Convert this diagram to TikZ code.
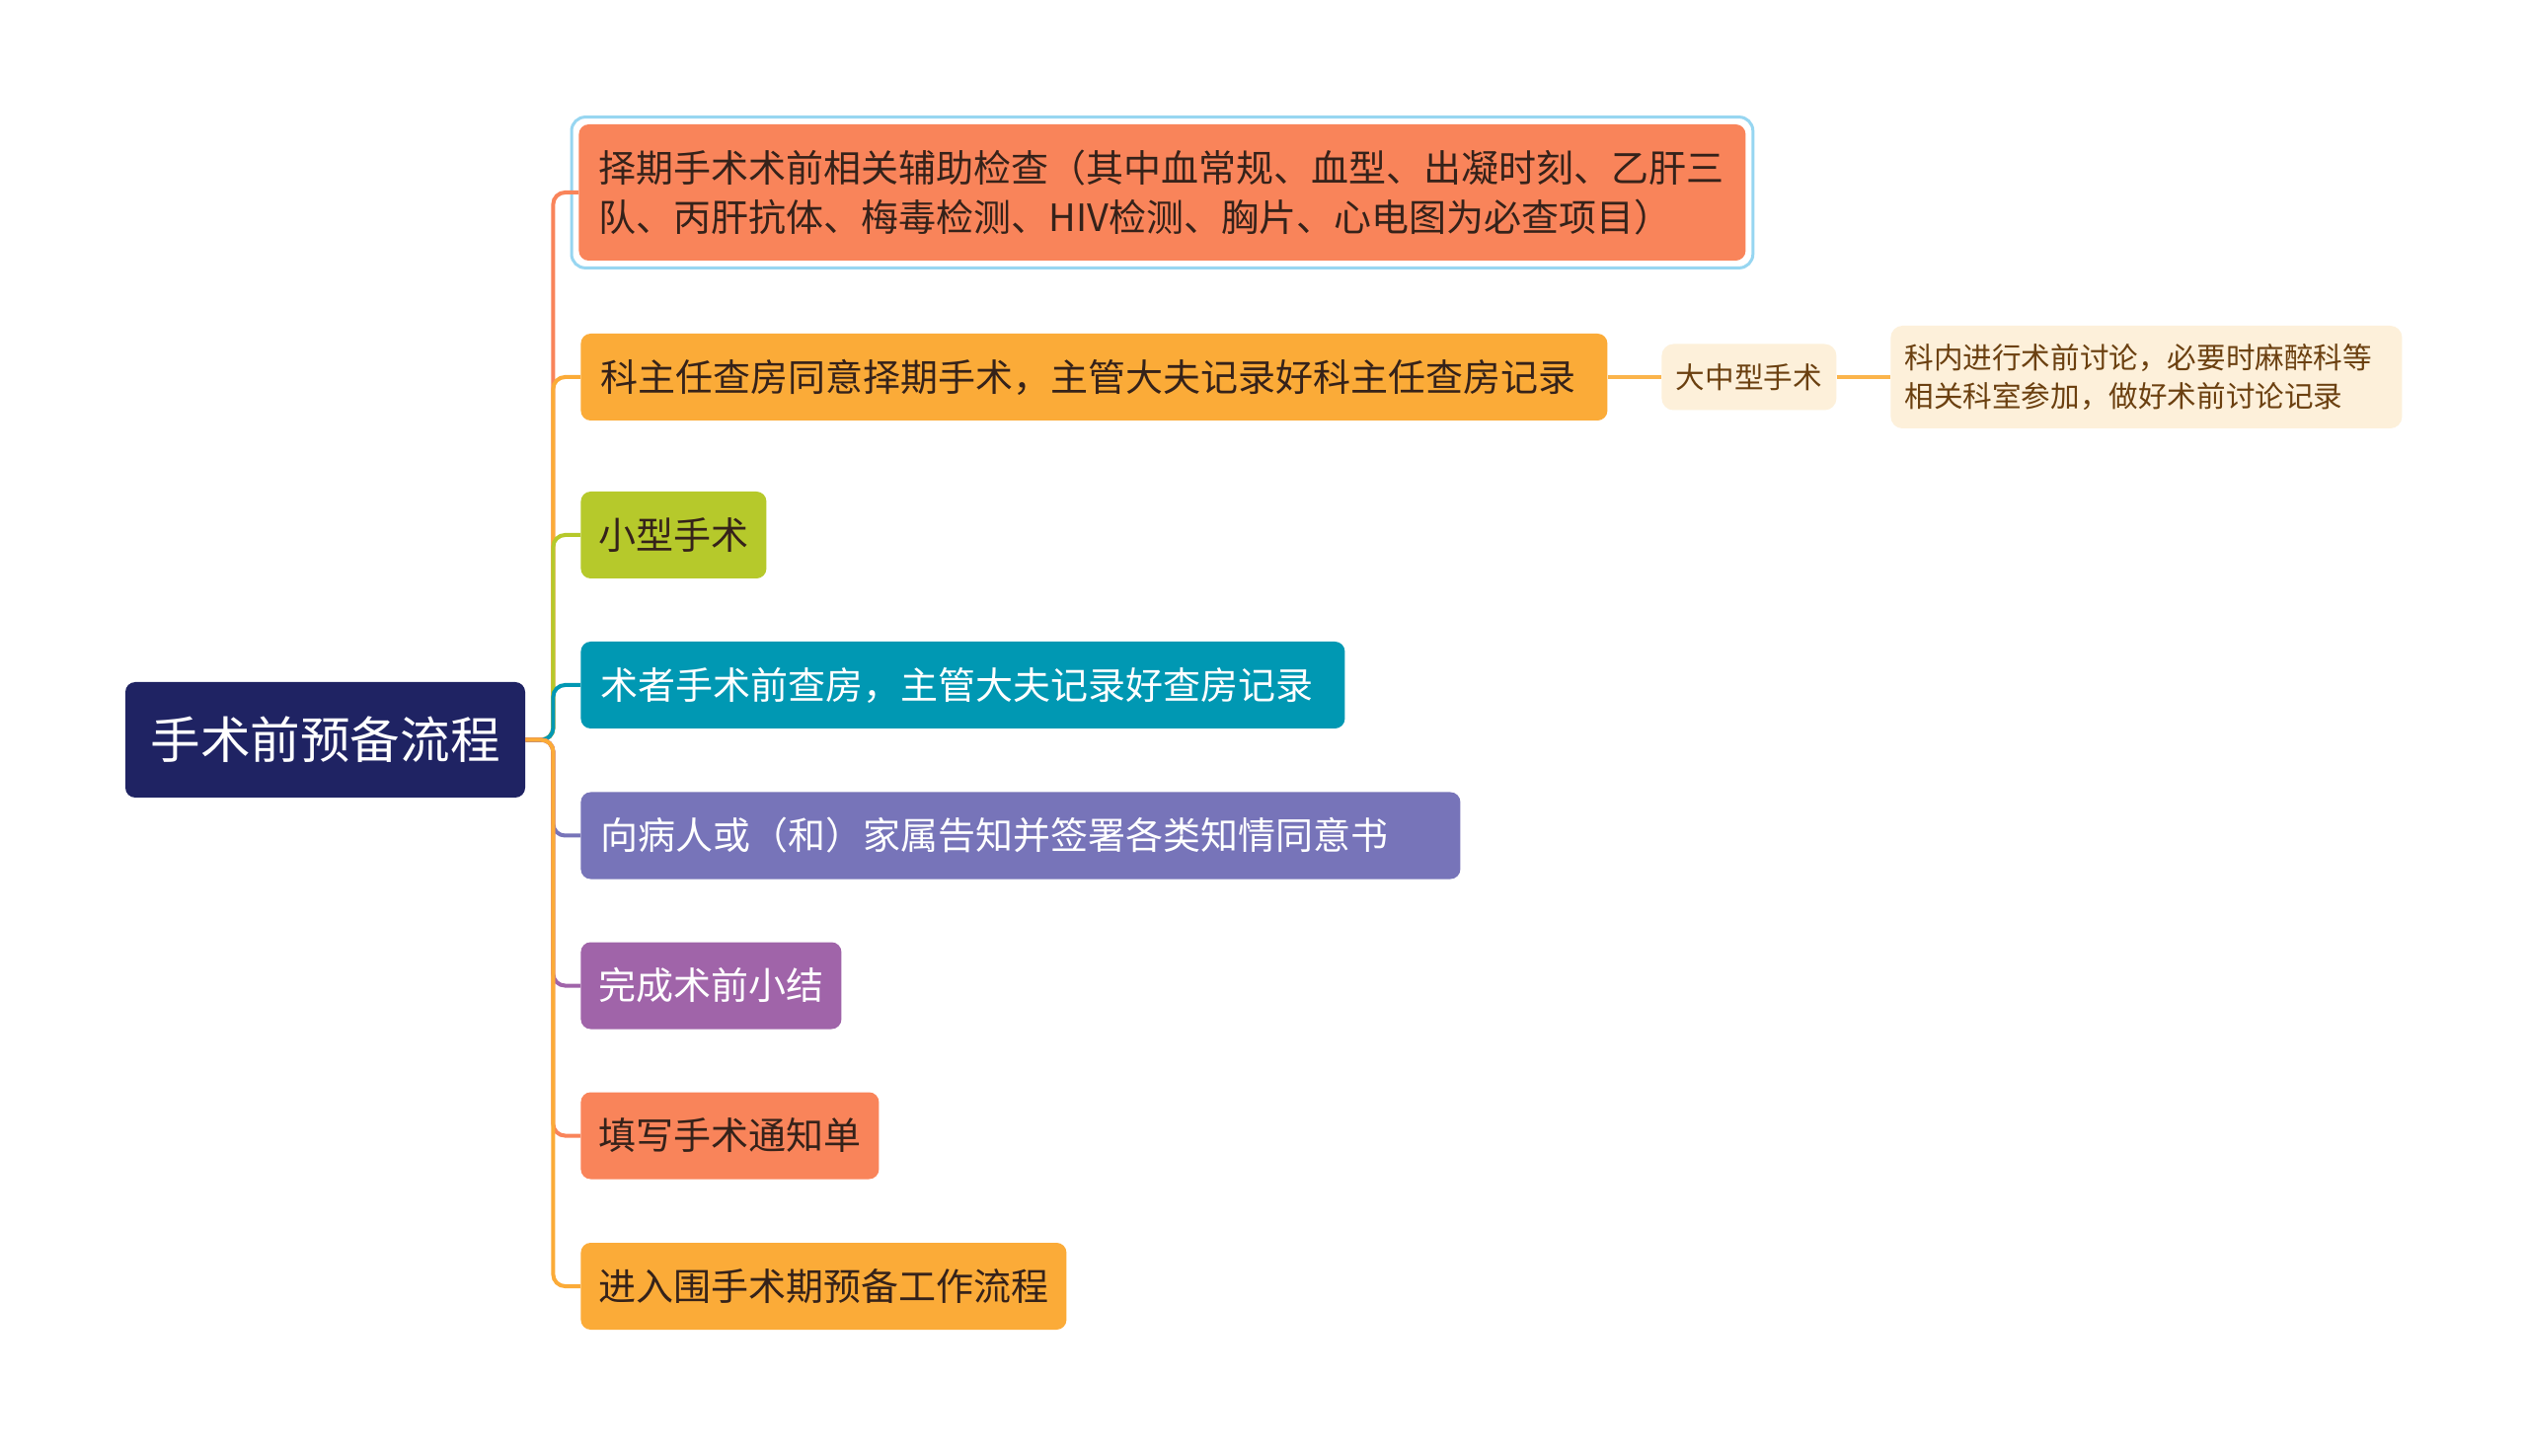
\documentclass[tikz,border=0pt]{standalone}
\usepackage{fontspec}
\newfontfamily\cjk{Noto Sans CJK SC}
\definecolor{rootc}{HTML}{1F2363}
\definecolor{salm}{HTML}{F9845A}
\definecolor{oran}{HTML}{FBAB38}
\definecolor{lime}{HTML}{B6C92B}
\definecolor{teal}{HTML}{0098B3}
\definecolor{viol}{HTML}{7774B9}
\definecolor{purp}{HTML}{A064A9}
\definecolor{subf}{HTML}{FDF0DA}
\definecolor{subt}{HTML}{6B4010}
\definecolor{dtxt}{HTML}{35221A}
\definecolor{selc}{HTML}{97D6F1}
\tikzset{
  mainbox/.style={rounded corners=5pt, inner xsep=10pt, inner ysep=0pt, minimum height=44pt,
    anchor=west, align=left, font=\cjk\fontsize{19}{25.3}\selectfont, text=dtxt},
  rootbox/.style={rounded corners=5pt, fill=rootc, text=white, minimum width=202.5pt,
    minimum height=58.5pt, inner sep=0pt, font=\cjk\fontsize{25.3}{30}\selectfont},
  subbox/.style={rounded corners=6pt, fill=subf, text=subt, inner ysep=0pt, inner xsep=7pt,
    anchor=west, font=\cjk\fontsize{14.8}{19.5}\selectfont},
  conn/.style={line width=2pt, rounded corners=6pt},
}
\begin{document}
\begin{tikzpicture}[x=0.5pt,y=-0.5pt]
\useasboundingbox[fill=white] (0,0) rectangle (2560,1475);
\node[rootbox] (root) at (329.5,749.5) {手术前预备流程};
\node[mainbox, fill=salm, text width=571pt, minimum height=69pt] (n1) at (586,195)
  {择期手术术前相关辅助检查（其中血常规、血型、出凝时刻、乙肝三\\队、丙肝抗体、梅毒检测、HIV检测、胸片、心电图为必查项目）};
\node[mainbox, fill=oran, text width=500pt] (n2) at (588,382) {科主任查房同意择期手术，主管大夫记录好科主任查房记录};
\node[subbox, minimum width=88.5pt, minimum height=33.5pt] (n2a) at (1683,382) {大中型手术};
\node[subbox, minimum width=259pt, minimum height=52pt, text width=245pt, align=left] (n2b) at (1915,382)
  {科内进行术前讨论，必要时麻醉科等\\相关科室参加，做好术前讨论记录};
\node[mainbox, fill=lime, text width=76pt, inner xsep=9pt] (n3) at (588,542) {小型手术};
\node[mainbox, fill=teal, text=white, text width=367pt] (n4) at (588,694) {术者手术前查房，主管大夫记录好查房记录};
\node[mainbox, fill=viol, text=white, text width=425.5pt] (n5) at (588,846.5) {向病人或（和）家属告知并签署各类知情同意书};
\node[mainbox, fill=purp, text=white, text width=114pt, inner xsep=9pt] (n6) at (588,998.5) {完成术前小结};
\node[mainbox, fill=salm, text width=133pt, inner xsep=9pt] (n7) at (588,1150.5) {填写手术通知单};
\node[mainbox, fill=oran, text width=228pt, inner xsep=9pt] (n8) at (588,1303) {进入围手术期预备工作流程};
\draw[selc, line width=1.5pt, rounded corners=7pt]
  ([shift={(-7,-7)}]n1.north west) rectangle ([shift={(7,7)}]n1.south east);
\draw[conn, salm] (root.east) -- ++(28,0) |- (n1.west);
\draw[conn, oran] (root.east) -- ++(28,0) |- (n2.west);
\draw[conn, lime] (root.east) -- ++(28,0) |- (n3.west);
\draw[conn, teal] (root.east) -- ++(28,0) |- (n4.west);
\draw[conn, viol] (root.east) -- ++(28,0) |- (n5.west);
\draw[conn, purp] (root.east) -- ++(28,0) |- (n6.west);
\draw[conn, salm] (root.east) -- ++(28,0) |- (n7.west);
\draw[conn, oran] (root.east) -- ++(28,0) |- (n8.west);
\draw[line width=2pt, oran!90!white] (n2.east) -- (n2a.west);
\draw[line width=2pt, oran!90!white] (n2a.east) -- (n2b.west);
\end{tikzpicture}
\end{document}
